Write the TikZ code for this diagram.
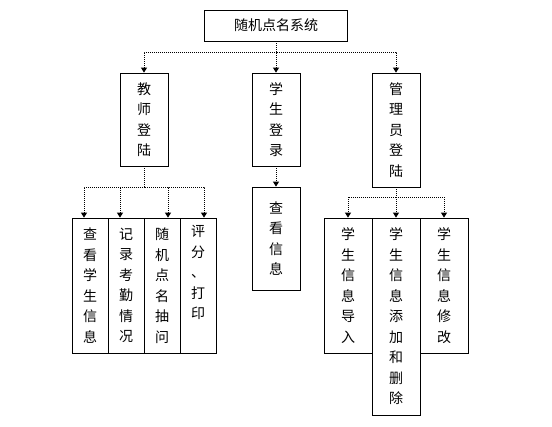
\documentclass[tikz,border=0pt]{standalone}
\usepackage{fontspec}
\setmainfont{Noto Sans CJK SC}
\usepackage{tikz}
\usetikzlibrary{positioning, arrows.meta}
\usepackage{xcolor}

\begin{document}
\begin{tikzpicture}[x=1pt, y=-1pt,
    box/.style={draw, line width=0.8pt, inner sep=0pt, align=center,
      font=\fontsize{14}{20.5}\selectfont},
    conn/.style={densely dotted, line width=1pt, -{Triangle[width=6pt,length=5pt]}}]
    \useasboundingbox[fill=white] (0,0) rectangle (552,427);

    % System
    \node[box, minimum width=143pt, minimum height=31pt] (sys) at (276,25.5) {随机点名系统};

    % Logins
    \node[box, minimum width=48pt, minimum height=93pt] (teacher) at (144,119.5) {教\\师\\登\\陆};
    \node[box, minimum width=48pt, minimum height=93pt] (student) at (276,119.5) {学\\生\\登\\录};
    \node[box, minimum width=48pt, minimum height=114pt] (admin) at (396,130) {管\\理\\员\\登\\陆};
    \draw[conn] (sys.south) -- ++(0,11) -| (teacher.north);
    \draw[conn] (sys.south) -- ++(0,11) -| (admin.north);
    \draw[conn] (sys.south) -- (student.north);

    % Teacher
    \node[box, minimum width=36pt, minimum height=135pt] (t1) at (90,285.5) {查\\看\\学\\生\\信\\息};
    \node[box, minimum width=36pt, minimum height=135pt] (t2) at (126,285.5) {记\\录\\考\\勤\\情\\况};
    \node[box, minimum width=36pt, minimum height=135pt] (t3) at (162,285.5) {随\\机\\点\\名\\抽\\问};
    \node[box, minimum width=36pt, minimum height=135pt] (t4) at (198,285.5) {评\\分\\、\\打\\印\\\strut};
    \draw[conn] (teacher.south) -- ++(0,21) -| ([xshift=-6pt]t1.north);
    \draw[conn] (teacher.south) -- ++(0,21) -| ([xshift=-6pt]t2.north);
    \draw[conn] (teacher.south) -- ++(0,21) -| ([xshift=6pt]t3.north);
    \draw[conn] (teacher.south) -- ++(0,21) -| ([xshift=6pt]t4.north);

    % Student
    \node[box, minimum width=48pt, minimum height=103pt] (s1) at (276,238.5) {查\\看\\信\\息};
    \draw[conn] (student.south) -- (s1.north);

    % Admin
    \node[box, minimum width=48pt, minimum height=135pt] (a1) at (348,285.5) {学\\生\\信\\息\\导\\入};
    \node[box, minimum width=48pt, minimum height=197pt] (a2) at (396,316.5) {学\\生\\信\\息\\添\\加\\和\\删\\除};
    \node[box, minimum width=48pt, minimum height=135pt] (a3) at (444,285.5) {学\\生\\信\\息\\修\\改};
    \draw[conn] (admin.south) -- ++(0,10) -| (a1.north);
    \draw[conn] (admin.south) -- (a2.north);
    \draw[conn] (admin.south) -- ++(0,10) -| (a3.north);
\end{tikzpicture}
\end{document}
